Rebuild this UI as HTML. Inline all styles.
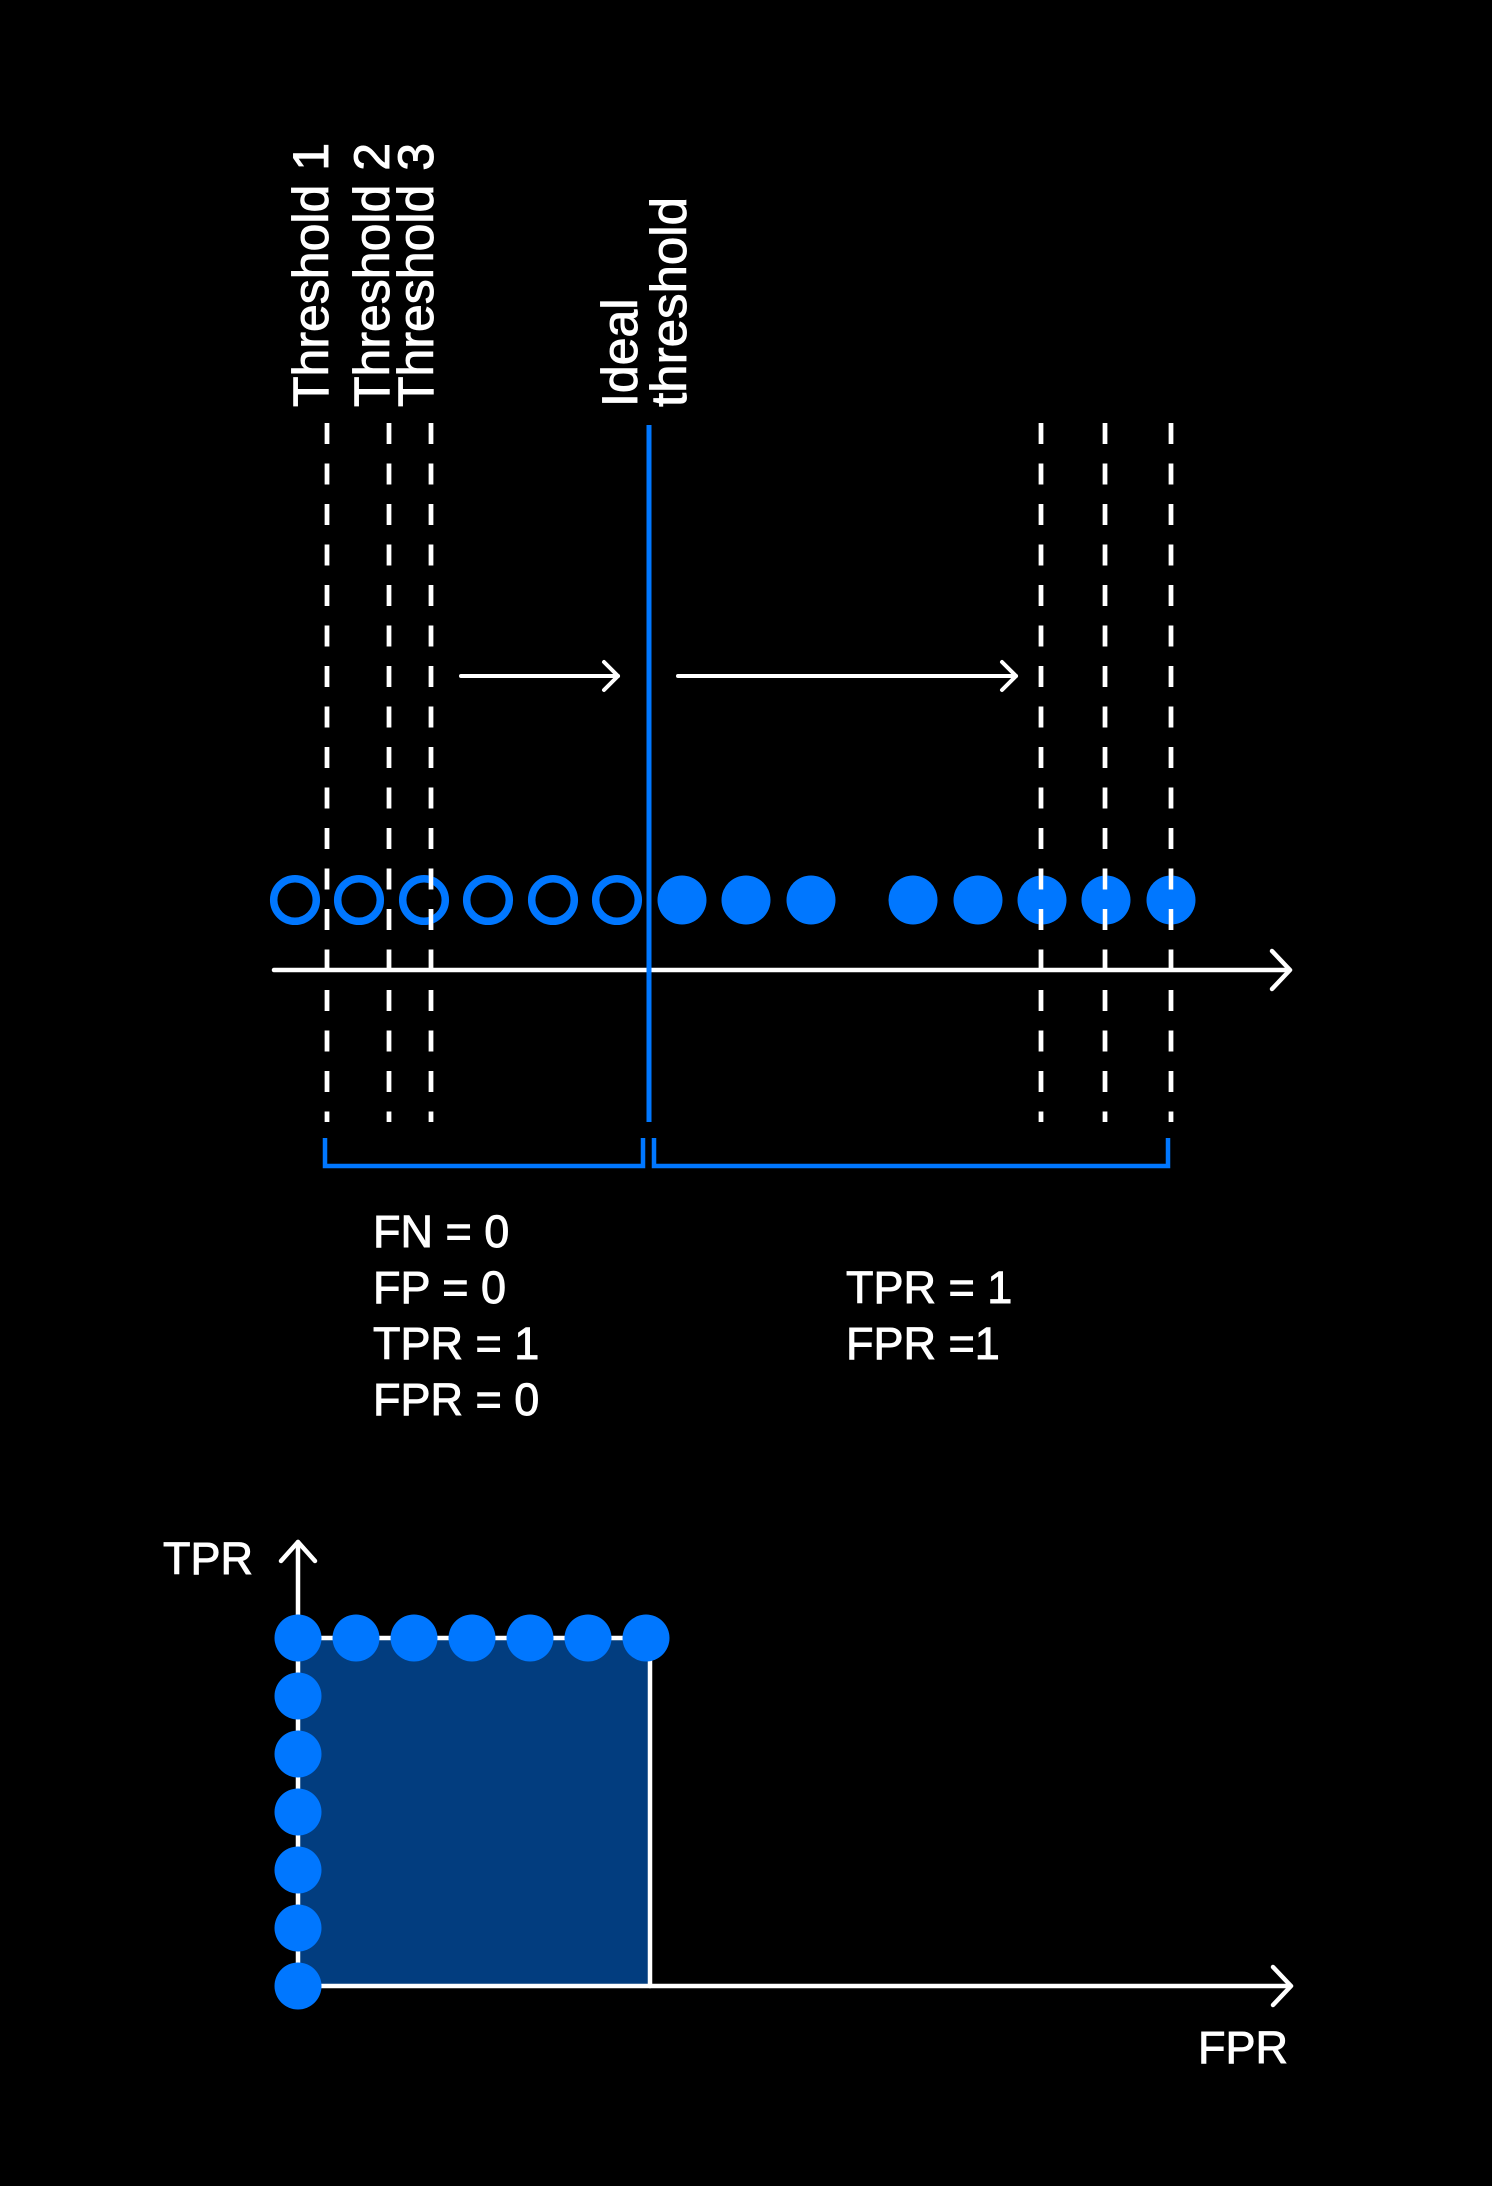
<!DOCTYPE html>
<html><head><meta charset="utf-8"><style>
html,body{margin:0;padding:0;background:#000;}
svg{display:block;}
text{font-family:"Liberation Sans",sans-serif;fill:#fff;stroke:#fff;stroke-width:0.9px;}
</style></head><body>
<svg width="1492" height="2186" viewBox="0 0 1492 2186" xmlns="http://www.w3.org/2000/svg">
<rect width="1492" height="2186" fill="#000"/>
<g font-size="50">
<text transform="translate(328,407) rotate(-90)">Threshold 1</text>
<text transform="translate(389,407) rotate(-90)">Threshold 2</text>
<text transform="translate(433,407) rotate(-90)">Threshold 3</text>
<text transform="translate(637,407) rotate(-90)">Ideal</text>
<text transform="translate(686,407) rotate(-90)" textLength="210" lengthAdjust="spacingAndGlyphs">threshold</text>
</g>
<g stroke="#fff" stroke-width="4.5" stroke-dasharray="21 19.5">
<line x1="327" y1="423" x2="327" y2="1122"/>
<line x1="389" y1="423" x2="389" y2="1122"/>
<line x1="431" y1="423" x2="431" y2="1122"/>
<line x1="1041" y1="423" x2="1041" y2="1122"/>
<line x1="1105" y1="423" x2="1105" y2="1122"/>
<line x1="1171" y1="423" x2="1171" y2="1122"/>
</g>
<g stroke="#fff" stroke-width="4" fill="none" stroke-linecap="round" stroke-linejoin="round">
<line x1="461" y1="676" x2="618" y2="676"/>
<polyline points="604,662 618,676 604,690"/>
<line x1="678" y1="676" x2="1016" y2="676"/>
<polyline points="1002,662 1016,676 1002,690"/>
</g>
<g fill="none" stroke="#0077ff" stroke-width="7.5">
<circle cx="295" cy="900" r="21.3"/>
<circle cx="359" cy="900" r="21.3"/>
<circle cx="424" cy="900" r="21.3"/>
<circle cx="488" cy="900" r="21.3"/>
<circle cx="553" cy="900" r="21.3"/>
<circle cx="617" cy="900" r="21.3"/>
</g>
<g fill="#0077ff">
<circle cx="682" cy="900" r="24.5"/>
<circle cx="746" cy="900" r="24.5"/>
<circle cx="811" cy="900" r="24.5"/>
<circle cx="913" cy="900" r="24.5"/>
<circle cx="978" cy="900" r="24.5"/>
<circle cx="1042" cy="900" r="24.5"/>
<circle cx="1106" cy="900" r="24.5"/>
<circle cx="1171" cy="900" r="24.5"/>
</g>
<g stroke="#fff" stroke-width="4.5" stroke-dasharray="21 19.5">
<line x1="327" y1="423" x2="327" y2="1122"/>
<line x1="389" y1="423" x2="389" y2="1122"/>
<line x1="431" y1="423" x2="431" y2="1122"/>
<line x1="1041" y1="423" x2="1041" y2="1122"/>
<line x1="1105" y1="423" x2="1105" y2="1122"/>
<line x1="1171" y1="423" x2="1171" y2="1122"/>
</g>
<g stroke="#fff" stroke-width="4.5" fill="none" stroke-linecap="round" stroke-linejoin="round">
<line x1="274" y1="970" x2="1289" y2="970"/>
<polyline points="1272,951 1290,970 1272,989"/>
</g>
<line x1="649" y1="425" x2="649" y2="1122" stroke="#0077ff" stroke-width="5"/>
<g stroke="#0077ff" stroke-width="4.5" fill="none">
<polyline points="325,1138 325,1166 643,1166 643,1138"/>
<polyline points="654,1138 654,1166 1168,1166 1168,1138"/>
</g>
<g font-size="45">
<text x="373" y="1247">FN = 0</text>
<text x="373" y="1303">FP = 0</text>
<text x="373" y="1359">TPR = 1</text>
<text x="373" y="1415">FPR = 0</text>
<text x="846" y="1303">TPR = 1</text>
<text x="846" y="1359">FPR =1</text>
</g>
<rect x="298" y="1638" width="352" height="348" fill="#023d7f"/>
<g stroke="#fff" stroke-width="4.5" fill="none" stroke-linecap="round" stroke-linejoin="round">
<line x1="298" y1="1986" x2="298" y2="1542"/>
<polyline points="281,1561 298,1542 315,1561"/>
<line x1="298" y1="1986" x2="1290" y2="1986"/>
<polyline points="1273,1967 1291,1986 1273,2005"/>
<line x1="298" y1="1638" x2="650" y2="1638"/>
<line x1="650" y1="1638" x2="650" y2="1986"/>
</g>
<g fill="#0077ff">
<circle cx="298" cy="1638" r="23.5"/>
<circle cx="356" cy="1638" r="23.5"/>
<circle cx="414" cy="1638" r="23.5"/>
<circle cx="472" cy="1638" r="23.5"/>
<circle cx="530" cy="1638" r="23.5"/>
<circle cx="588" cy="1638" r="23.5"/>
<circle cx="646" cy="1638" r="23.5"/>
<circle cx="298" cy="1696" r="23.5"/>
<circle cx="298" cy="1754" r="23.5"/>
<circle cx="298" cy="1812" r="23.5"/>
<circle cx="298" cy="1870" r="23.5"/>
<circle cx="298" cy="1928" r="23.5"/>
<circle cx="298" cy="1986" r="23.5"/>
</g>
<g font-size="45">
<text x="163" y="1574">TPR</text>
<text x="1198" y="2063">FPR</text>
</g>
</svg>
</body></html>
